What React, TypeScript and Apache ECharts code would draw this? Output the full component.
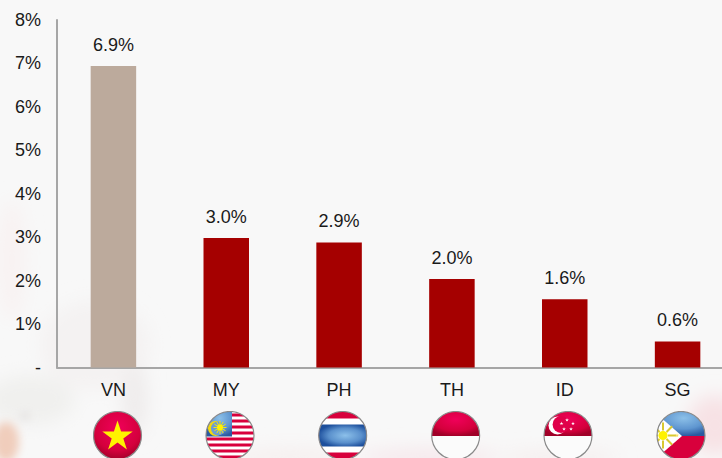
import React, { useEffect, useRef } from "react";
import * as echarts from "echarts";

const categories = ["VN", "MY", "PH", "TH", "ID", "SG"];
const growthValues = [6.94, 2.98, 2.88, 2.04, 1.57, 0.6];
const valueLabels = ["6.9%", "3.0%", "2.9%", "2.0%", "1.6%", "0.6%"];
const barColors = ["#bcaa9c", "#a50000", "#a50000", "#a50000", "#a50000", "#a50000"];
const FONT = "'Liberation Sans', Arial, sans-serif";

const wrap = (inner: string, defs = "") =>
  "data:image/svg+xml;charset=utf-8," +
  encodeURIComponent(
    `<svg xmlns="http://www.w3.org/2000/svg" width="50" height="50" viewBox="0 0 50 50">
    <defs>
      <clipPath id="c"><circle cx="25" cy="25" r="24"/></clipPath>
      <radialGradient id="red" cx="0.5" cy="0.35" r="0.65"><stop offset="0" stop-color="#f0005a"/><stop offset="0.7" stop-color="#d4003c"/><stop offset="1" stop-color="#a00028"/></radialGradient>
      <radialGradient id="blue" cx="0.55" cy="0.3" r="0.7"><stop offset="0" stop-color="#8cc0e8"/><stop offset="0.6" stop-color="#5f96d0"/><stop offset="1" stop-color="#2a5aa0"/></radialGradient>
      <radialGradient id="thb" cx="0.55" cy="0.5" r="0.55"><stop offset="0" stop-color="#8cc0ea"/><stop offset="0.6" stop-color="#5a90cc"/><stop offset="1" stop-color="#1d4f9c"/></radialGradient>
      ${defs}
    </defs>
    <g clip-path="url(#c)">${inner}</g>
    <circle cx="25" cy="25" r="24" fill="none" stroke="#8a8a8a" stroke-width="1.2"/>
    </svg>`
  );

const star = (cx: number, cy: number, R: number, fill: string) => {
  const pts: string[] = [];
  for (let i = 0; i < 10; i++) {
    const r = i % 2 === 0 ? R : R * 0.382;
    const a = -Math.PI / 2 + (i * Math.PI) / 5;
    pts.push(`${(cx + r * Math.cos(a)).toFixed(2)},${(cy + r * Math.sin(a)).toFixed(2)}`);
  }
  return `<polygon points="${pts.join(" ")}" fill="${fill}"/>`;
};

const rays = (cx: number, cy: number, r0: number, r1: number, n: number, color: string, w: number) => {
  let s = "";
  for (let i = 0; i < n; i++) {
    const a = (i * 2 * Math.PI) / n;
    s += `<line x1="${(cx + r0 * Math.cos(a)).toFixed(2)}" y1="${(cy + r0 * Math.sin(a)).toFixed(2)}" x2="${(cx + r1 * Math.cos(a)).toFixed(2)}" y2="${(cy + r1 * Math.sin(a)).toFixed(2)}" stroke="${color}" stroke-width="${w}"/>`;
  }
  return s;
};

const flagVN = wrap(`<rect width="50" height="50" fill="url(#red)"/>${star(25, 26, 16, "#fff200")}`);

const myStripes = [0, 1, 2, 3, 4, 5, 6, 7]
  .map((i) => `<rect x="0" y="${3 + i * 6}" width="50" height="3" fill="#d8003c"/>`)
  .join("");
const flagMY = wrap(
  `<rect width="50" height="50" fill="#fff"/>${myStripes}
   <rect x="0" y="0" width="27" height="26" fill="url(#blue)"/>
   <circle cx="10.5" cy="18" r="7.5" fill="#f5d90a"/><circle cx="13" cy="18" r="7" fill="#6a9cd4"/>
   ${rays(15, 17, 2, 6.5, 12, "#f5e60a", 1)}<circle cx="15" cy="17" r="3" fill="#fff200"/>`
);

const flagTH = wrap(
  `<rect width="50" height="50" fill="#d8003c"/>
   <rect y="8" width="50" height="34" fill="#fff"/>
   <rect y="14" width="50" height="22" fill="url(#thb)"/>`
);

const flagID = wrap(
  `<rect width="50" height="25.5" fill="url(#red)"/><rect y="25.5" width="50" height="25" fill="#fbfbfb"/>`
);

const flagSG = wrap(
  `<rect width="50" height="25.5" fill="url(#red)"/><rect y="25.5" width="50" height="25" fill="#fbfbfb"/>
   <circle cx="14.5" cy="15" r="9" fill="#fff"/><circle cx="18" cy="14" r="8.4" fill="#e0004a"/>
   ${star(24, 9.5, 2, "#fff")}${star(30, 13, 2, "#fff")}${star(28, 18.5, 2, "#fff")}${star(21, 18.5, 2, "#fff")}${star(18.5, 13, 2, "#fff")}`
);

const flagPH = wrap(
  `<rect width="50" height="25.5" fill="url(#blue)"/><rect y="25.5" width="50" height="25" fill="#d8003c"/>
   <polygon points="0,3 26,25.5 0,48" fill="#fff"/>
   ${rays(7, 25, 5, 13, 8, "#d8c830", 2)}<circle cx="7" cy="25" r="4.6" fill="#fff200"/>
   ${star(21, 25, 2.2, "#f5e060")}`
);

const flags = [flagVN, flagMY, flagTH, flagID, flagSG, flagPH];
const flagCenters = [117.5, 230, 342.7, 455.7, 568, 681];

const background =
  "data:image/svg+xml;charset=utf-8," +
  encodeURIComponent(
    `<svg xmlns="http://www.w3.org/2000/svg" width="722" height="458">
    <defs><filter id="b" x="-50%" y="-50%" width="200%" height="200%"><feGaussianBlur stdDeviation="9"/></filter>
    <filter id="s" x="-50%" y="-50%" width="200%" height="200%"><feGaussianBlur stdDeviation="4"/></filter></defs>
    <rect width="722" height="458" fill="#f8f8f8"/>
    <g filter="url(#b)">
      <ellipse cx="12" cy="260" rx="14" ry="60" fill="#f8f2f2"/>
      <ellipse cx="95" cy="345" rx="55" ry="45" fill="#f4f2f2"/>
      <ellipse cx="30" cy="400" rx="45" ry="25" fill="#f0f0ee"/>
      <ellipse cx="135" cy="400" rx="12" ry="36" fill="#eeebeb"/>
      <ellipse cx="290" cy="458" rx="60" ry="10" fill="#f6efef"/>
      <ellipse cx="430" cy="458" rx="70" ry="10" fill="#f6e8ec"/>
      <ellipse cx="715" cy="425" rx="28" ry="30" fill="#f7e2e5"/>
      <ellipse cx="560" cy="458" rx="60" ry="6" fill="#f4eaea"/>
    </g>
    <g filter="url(#s)">
      <ellipse cx="6" cy="442" rx="13" ry="20" fill="#f0cdbc"/>
      <ellipse cx="25" cy="416" rx="5" ry="3" fill="#dedada"/>
    </g>
    </svg>`
  );

export default function App() {
  const ref = useRef<HTMLDivElement>(null);

  useEffect(() => {
    document.body.style.margin = "0";
    const chart = echarts.init(ref.current!, null, { renderer: "svg" });
    chart.setOption({
      animation: false,
      backgroundColor: "#f8f8f8",
      grid: { left: 57, width: 677, top: 20, bottom: 90.5, containLabel: false, outerBoundsMode: "none" },
      xAxis: {
        type: "category",
        data: categories,
        axisTick: { show: false },
        axisLine: { lineStyle: { color: "#a6a6a6", width: 2 } },
        axisLabel: { color: "#1a1a1a", fontSize: 18, fontFamily: FONT, margin: 13 },
      },
      yAxis: {
        type: "value",
        min: 0,
        max: 8,
        interval: 1,
        splitLine: { show: false },
        axisTick: { show: false },
        axisLine: { show: true, lineStyle: { color: "#a6a6a6", width: 2 } },
        axisLabel: {
          color: "#1a1a1a",
          fontSize: 18,
          fontFamily: FONT,
          margin: 16,
          padding: [2, 0, 0, 0],
          formatter: (v: number) => (v === 0 ? "-" : `${v}%`),
        },
      },
      series: [
        {
          type: "bar",
          barWidth: 45.5,
          data: growthValues.map((value, i) => ({
            value,
            itemStyle: { color: barColors[i] },
          })),
          label: {
            show: true,
            position: "top",
            distance: 12,
            color: "#1a1a1a",
            fontSize: 18,
            fontFamily: FONT,
            formatter: (p: any) => valueLabels[p.dataIndex],
          },
        },
      ],
      graphic: [
        {
          type: "image",
          z: -10,
          silent: true,
          x: 0,
          y: 0,
          style: { image: background, width: 722, height: 458 },
        },
        ...flags.map((image, i) => ({
          type: "image",
          silent: true,
          x: flagCenters[i] - 25,
          y: 410.5,
          style: { image, width: 50, height: 50 },
        })),
      ],
    });
    return () => chart.dispose();
  }, []);

  return <div ref={ref} style={{ width: 722, height: 458 }} />;
}
